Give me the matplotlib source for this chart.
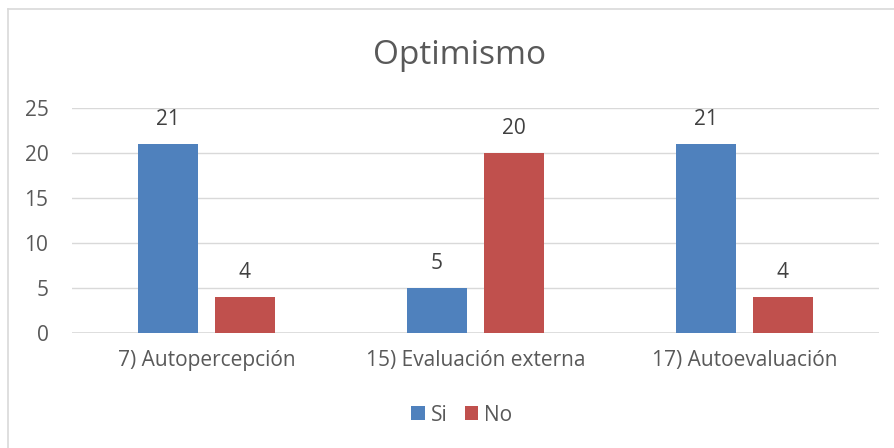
import numpy as np
import matplotlib
matplotlib.use("Agg")
import matplotlib.pyplot as plt
from matplotlib.lines import Line2D

categories = ["7) Autopercepción", "15) Evaluación externa", "17) Autoevaluación"]
si_vals = [21, 5, 21]
no_vals = [4, 20, 4]
series_names = ["Si", "No"]
title = "Optimismo"

plt.rcParams['font.family'] = ['Open Sans', 'DejaVu Sans']
txt_col = "#595959"
blue = "#4F81BD"
red = "#C0504D"

fig = plt.figure(figsize=(8.94, 4.48), dpi=100)
ax = fig.add_axes([72/894, 1 - 333/448, (879 - 72)/894, (333 - 108)/448])

x = np.arange(len(categories))
w = 0.223
off = 0.143
b1 = ax.bar(x - off, si_vals, w, color=blue, label=series_names[0], zorder=3)
b2 = ax.bar(x + off, no_vals, w, color=red, label=series_names[1], zorder=3)
for bars in (b1, b2):
    ax.bar_label(bars, padding=10, fontsize=15, color="#404040")

ax.set_xlim(-0.5, len(categories) - 0.5)
ax.set_ylim(0, 25)
ax.set_yticks(range(0, 26, 5))
ax.set_xticks(x)
ax.set_xticklabels(categories)
ax.tick_params(axis='both', length=0, labelsize=15, colors=txt_col)
ax.tick_params(axis='x', pad=12)
ax.tick_params(axis='y', pad=17)
ax.grid(axis='y', color="#D9D9D9", linewidth=1, zorder=0)
for s in ax.spines.values():
    s.set_visible(False)
ax.axhline(0, color="#D9D9D9", linewidth=1.2, zorder=2)

fig.text(460/894, 1 - 55/448, title, ha='center', va='center', fontsize=24, color=txt_col)

leg = fig.legend(handles=[b1, b2], labels=series_names, loc='center',
                 bbox_to_anchor=(462/894, 1 - 415/448), ncol=2, frameon=False,
                 fontsize=15, handlelength=0.65, handleheight=0.65,
                 handletextpad=0.3, columnspacing=0.8)
for t in leg.get_texts():
    t.set_color(txt_col)

# chart border
fig.add_artist(Line2D([8/894, 8/894], [0, 1 - 9/448], color="#D9D9D9", linewidth=1.2))
fig.add_artist(Line2D([8/894, 1], [1 - 9/448, 1 - 9/448], color="#D9D9D9", linewidth=1.2))

fig.savefig("out.png", dpi=100)
